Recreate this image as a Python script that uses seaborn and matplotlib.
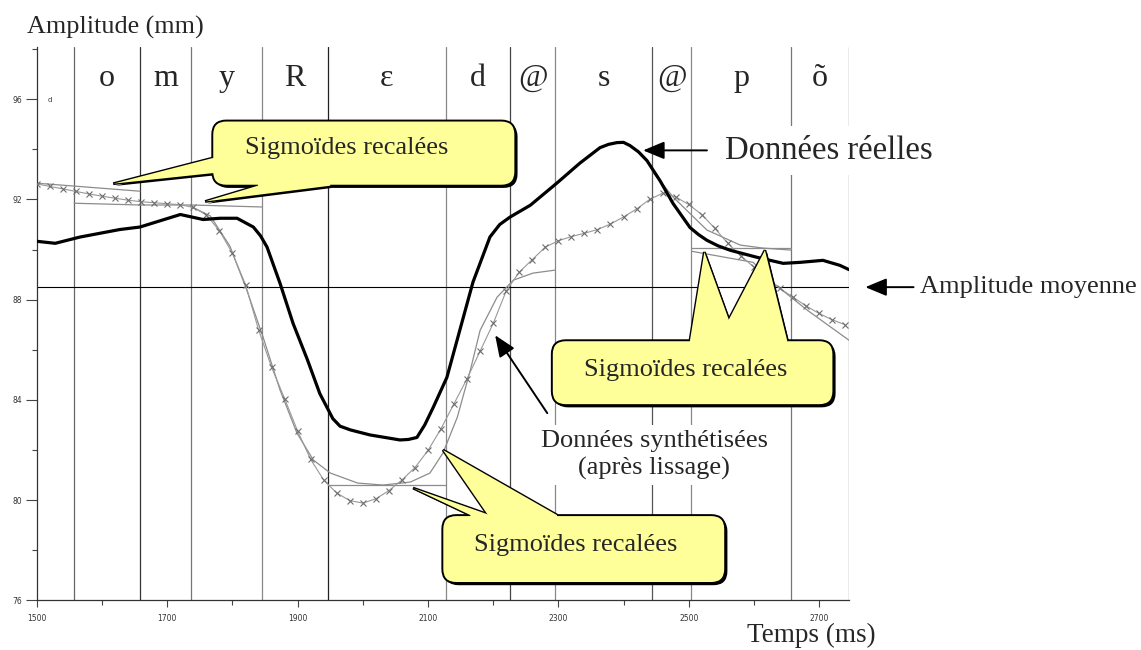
import matplotlib
matplotlib.use("Agg")
import matplotlib.pyplot as plt
import matplotlib.patheffects as pe
from matplotlib.patches import FancyBboxPatch, Polygon
from matplotlib.ticker import FixedLocator, MultipleLocator
import pandas as pd
import seaborn as sns

# phoneme segmentation (ms)
bounds = [1557, 1658, 1737, 1846, 1946, 2128, 2226, 2295, 2444, 2504, 2657, 2746]
bound_colors = ["#666", "#333", "#777", "#888", "#222", "#888",
                "#444", "#888", "#555", "#888", "#777", "#666"]
phonemes = ["o", "m", "y", "R", "ε", "d", "@", "s", "@", "p", "õ"]

# axis ticks
x_major = [1500, 1700, 1900, 2100, 2300, 2500, 2700]
x_minor = [1600, 1800, 2000, 2200, 2400, 2600]

# real data (thick black curve)
real_t = [1500, 1528, 1566, 1627, 1658, 1689, 1720, 1755, 1781, 1807, 1832,
          1843, 1853, 1873, 1893, 1915, 1934, 1954, 1965, 1981, 2011, 2057,
          2070, 2083, 2095, 2108, 2129, 2149, 2169, 2195, 2210, 2226, 2257,
          2298, 2333, 2364, 2377, 2390, 2400, 2410, 2423, 2436, 2456, 2476,
          2502, 2515, 2528, 2545, 2564, 2605, 2645, 2671, 2706, 2732, 2746]
real_mm = [90.33, 90.25, 90.5, 90.8, 90.9, 91.15, 91.4, 91.2, 91.25, 91.25, 90.9,
           90.55, 90.1, 88.65, 87.05, 85.6, 84.25, 83.25, 82.95, 82.8, 82.6, 82.4,
           82.42, 82.5, 83.0, 83.7, 84.9, 86.8, 88.7, 90.5, 91.0, 91.3, 91.77,
           92.66, 93.45, 94.07, 94.2, 94.27, 94.28, 94.15, 93.9, 93.55, 92.75, 91.84,
           90.88, 90.6, 90.37, 90.15, 89.97, 89.69, 89.45, 89.49, 89.57, 89.37, 89.2]

# synthesized data after smoothing (crossed curve), sampled every 20 ms
synth_t = list(range(1500, 2741, 20))
synth_mm = [92.62, 92.52, 92.42, 92.32, 92.22, 92.13, 92.05, 91.97, 91.91, 91.87,
            91.83, 91.79, 91.68, 91.38, 90.75, 89.85, 88.6, 86.8, 85.3, 84.05,
            82.75, 81.62, 80.8, 80.28, 79.98, 79.88, 80.05, 80.38, 80.8, 81.3,
            81.98, 82.85, 83.85, 84.85, 85.95, 87.05, 88.35, 89.1, 89.6, 90.1,
            90.35, 90.52, 90.65, 90.8, 91.02, 91.3, 91.62, 92.0, 92.25, 92.1,
            91.8, 91.4, 90.85, 90.25, 89.75, 89.3, 88.85, 88.45, 88.1, 87.75,
            87.45, 87.2, 87.0]

# re-aligned sigmoids (thin grey pieces)
sig_t = {
    "s1": [1500, 1658],
    "s2": [1557, 1658, 1737, 1846],
    "s3": [1735, 1766, 1796, 1822, 1847, 1873, 1899, 1924, 1950, 1992, 2031,
           2073, 2103, 2123, 2145, 2165, 2180, 2206, 2231, 2261, 2295],
    "s4": [1946, 2128],
    "s5": [2444, 2476, 2528, 2579, 2614, 2657],
    "s6": [2504, 2657],
    "s7": [2505, 2599, 2630, 2682, 2746],
}
sig_mm = {
    "s1": [92.65, 92.33],
    "s2": [91.85, 91.78, 91.78, 91.7],
    "s3": [91.74, 91.34, 90.14, 88.38, 86.5, 84.39, 82.67, 81.6, 81.08, 80.68, 80.6,
           80.72, 81.08, 81.88, 83.31, 85.19, 86.78, 88.1, 88.78, 89.06, 89.18],
    "s4": [80.6, 80.6],
    "s5": [93.12, 92.1, 90.78, 90.18, 90.06, 89.98],
    "s6": [90.05, 90.05],
    "s7": [89.93, 89.49, 88.66, 87.58, 86.38],
}
mean_amp = 88.5

sig_df = pd.concat(
    [pd.DataFrame({"t": sig_t[k], "mm": sig_mm[k], "seg": k}) for k in sig_t],
    ignore_index=True,
)

sns.set_style("ticks")
SERIF = "Liberation Serif"
YELLOW = "#FFFF99"

fig = plt.figure(figsize=(11.41, 6.5), dpi=100)
ax = fig.add_axes([0.0324, 0.0765, 0.7117, 0.8517])

for b, c in zip(bounds, bound_colors):
    ax.axvline(b, color=c, lw=0.9, zorder=1)
ax.axhline(mean_amp, color="k", lw=0.8, zorder=1)

sns.lineplot(data=sig_df, x="t", y="mm", units="seg", estimator=None,
             color="#8c8c8c", lw=0.9, ax=ax, zorder=2)
sns.lineplot(x=synth_t, y=synth_mm, estimator=None, color="#999999", lw=0.8,
             marker="x", markersize=4.5, markeredgecolor="#6e6e6e",
             markeredgewidth=0.8, ax=ax, zorder=3)
sns.lineplot(x=real_t, y=real_mm, estimator=None, color="k", lw=2.3, ax=ax, zorder=4)

ax.set_xlim(1500, 2746)
ax.set_ylim(76, 98.1)
ax.set_xlabel("")
ax.set_ylabel("")
sns.despine(ax=ax)
for s in ("left", "bottom"):
    ax.spines[s].set_linewidth(0.9)
    ax.spines[s].set_color("#333")

ax.xaxis.set_major_locator(FixedLocator(x_major))
ax.xaxis.set_minor_locator(FixedLocator(x_minor))
ax.yaxis.set_major_locator(MultipleLocator(4))
ax.yaxis.set_minor_locator(MultipleLocator(2))
ax.tick_params(axis="x", which="major", length=5, width=0.8, color="#444",
               labelsize=5.5, labelcolor="#333", pad=5)
ax.tick_params(axis="x", which="minor", length=3.4, width=0.8, color="#444")
ax.tick_params(axis="y", which="major", length=8, width=0.8, color="#444",
               labelsize=5.5, labelcolor="#333", pad=2.5)
ax.tick_params(axis="y", which="minor", length=3.6, width=0.8, color="#444")

# phoneme labels
for i, p in enumerate(phonemes):
    ax.text((bounds[i] + bounds[i + 1]) / 2, 96.52, p, ha="center", va="baseline",
            fontsize=23, family=SERIF, zorder=6)
ax.text(1517, 95.97, "d", fontsize=5, va="center", color="#333")

# pixel -> data scale factors
fig_w, fig_h = fig.get_size_inches() * fig.dpi
pos = ax.get_position()
kx = (2746 - 1500) / (pos.width * fig_w)
ky = (98.1 - 76) / (pos.height * fig_h)

shadow = [pe.SimplePatchShadow(offset=(1.6, -1.6), shadow_rgbFace="k", alpha=1), pe.Normal()]


def callout(box, wedges, text, text_xy):
    x0, y0, x1, y1 = box
    for tip, b1, b2 in wedges:
        ax.add_patch(Polygon([tip, b1, b2], closed=True, fc=YELLOW, ec="k", lw=2.0,
                             zorder=5, path_effects=shadow, clip_on=False))
    ax.add_patch(FancyBboxPatch((x0, y0), x1 - x0, y1 - y0,
                                boxstyle=f"round,pad=0,rounding_size={14 * kx}",
                                mutation_aspect=ky / kx, fc=YELLOW, ec="k", lw=1.4,
                                zorder=5.1, path_effects=shadow, clip_on=False))
    for tip, b1, b2 in wedges:
        inner = []
        for bx, by in (b1, b2):
            if abs(bx - x0) < 1e-6:
                inner.append((bx + 4 * kx, by))
            elif abs(bx - x1) < 1e-6:
                inner.append((bx - 4 * kx, by))
            elif abs(by - y0) < 1e-6:
                inner.append((bx, by + 4 * ky))
            else:
                inner.append((bx, by - 4 * ky))
        ax.add_patch(Polygon([tip, b1, inner[0], inner[1], b2], closed=True,
                             fc=YELLOW, ec="none", lw=0, zorder=5.2, clip_on=False))
    ax.text(*text_xy, text, ha="center", va="center", fontsize=19, family=SERIF,
            zorder=6)


callout((1769, 92.55, 2234, 95.15),
        [((1617, 92.63), (1769, 93.65), (1769, 93.05)),
         ((1758, 91.92), (1839, 92.55), (1950, 92.55))],
        "Sigmoïdes recalées", (1975, 94.05))
callout((2290, 83.79, 2722, 86.38),
        [((2524, 89.9), (2502, 86.38), (2573, 86.38)),
         ((2617, 89.97), (2545, 86.38), (2651, 86.38))],
        "Sigmoïdes recalées", (2495, 85.2))
callout((2122, 76.69, 2556, 79.4),
        [((2077, 80.48), (2165, 79.4), (2195, 79.4)),
         ((2123, 82.0), (2192, 79.4), (2298, 79.4))],
        "Sigmoïdes recalées", (2327, 78.2))

arrow = dict(arrowstyle="-|>,head_length=0.65,head_width=0.27", color="k",
             lw=1.4, mutation_scale=20, shrinkA=0, shrinkB=0)
ax.annotate("", xy=(2430, 93.96), xytext=(2528, 93.96), arrowprops=arrow,
            annotation_clip=False, zorder=6)
ax.text(2556, 93.96, "Données réelles", fontsize=23.5, family=SERIF, ha="left",
        va="center", zorder=6,
        bbox=dict(facecolor="white", edgecolor="none", boxstyle="square,pad=0.28"))

ax.annotate("", xy=(2771, 88.5), xytext=(2845, 88.5), arrowprops=arrow,
            annotation_clip=False, zorder=6)
ax.text(2855, 88.5, "Amplitude moyenne", fontsize=19, family=SERIF, ha="left",
        va="center", zorder=6)

ax.annotate("", xy=(2203, 86.58), xytext=(2283, 83.47), arrowprops=arrow,
            annotation_clip=False, zorder=6)
ax.text(2447, 81.8, "Données synthétisées\n(après lissage)", fontsize=19,
        family=SERIF, ha="center", va="center", multialignment="center",
        linespacing=1.25, zorder=6,
        bbox=dict(facecolor="white", edgecolor="none", boxstyle="square,pad=0.2"))

fig.text(27 / 1141, 1 - 27 / 650, "Amplitude (mm)", fontsize=18.8, family=SERIF,
         ha="left", va="center")
fig.text(747 / 1141, 1 - 635 / 650, "Temps (ms)", fontsize=19.5, family=SERIF,
         ha="left", va="center")

fig.savefig("out.png", dpi=100)
